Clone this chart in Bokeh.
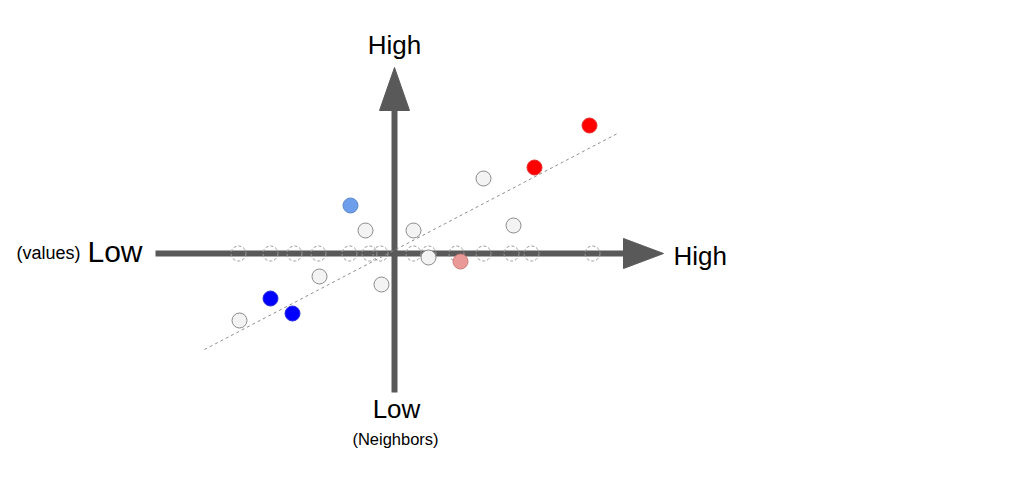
from bokeh.plotting import figure
from bokeh.models import Range1d
from bokeh.core.properties import value
from bokeh.embed import file_html
from bokeh.resources import INLINE

# Coordinates: origin at the crossing of the two axes, 1 unit = 1 px
# Dashed "projected" circles lying on the horizontal axis
proj_x = [-156, -124, -100, -76, -45, -25, -14, 19, 34, 62, 89, 117, 137, 198]
proj_y = [0] * len(proj_x)

# Neutral (not significant) observations
neutral_x = [-155, -75, -29, -13, 19, 34, 89, 119]
neutral_y = [-67, -23, 23, -31, 23, -4, 75, 28]

# Coloured observations
hh_x, hh_y = [195, 140], [128, 86]          # High-High (red)
ll_x, ll_y = [-124, -102], [-45, -60]       # Low-Low (blue)
lh_x, lh_y = [-44], [48]                    # Low-High (light blue)
hl_x, hl_y = [66], [-8]                     # High-Low (pink)

# Regression line end points
trend_x = [-190, 223]
trend_y = [-96, 120]

# Axis geometry
h_axis_x = [-239, 229]
v_axis_y = [-139, 143]
h_head_x = [229, 269, 229]
h_head_y = [15, 0, -15]
v_head_x = [-15, 0, 15]
v_head_y = [143, 186, 143]

FONT = value("Liberation Sans")
AXIS_COL = "#595959"

p = figure(width=1008, height=474, output_backend="svg", toolbar_location=None,
           x_range=Range1d(-394, 614), y_range=Range1d(-221, 253),
           min_border=0)
p.axis.visible = False
p.grid.visible = False
p.outline_line_color = None
p.background_fill_color = "white"
p.border_fill_color = "white"

# axes (thick arrows)
p.line(h_axis_x, [0, 0], line_width=6, line_color=AXIS_COL)
p.line([0, 0], v_axis_y, line_width=6, line_color=AXIS_COL)
p.patch(h_head_x, h_head_y, fill_color=AXIS_COL, line_color=AXIS_COL)
p.patch(v_head_x, v_head_y, fill_color=AXIS_COL, line_color=AXIS_COL)

# projected dashed circles
p.scatter(proj_x, proj_y, size=15, fill_color=None, line_color="#9a9a9a",
          line_dash="3 2", line_width=1)

# trend line
p.line(trend_x, trend_y, line_color="#8f8f8f", line_dash="3 3", line_width=1)

# observations
p.scatter(neutral_x, neutral_y, size=15, fill_color="#f3f3f3", line_color="#8a8a8a", line_width=1)
p.scatter(hh_x, hh_y, size=15, fill_color="#ff0000", line_color="#e63030", line_width=1)
p.scatter(ll_x, ll_y, size=15, fill_color="#0000ff", line_color="#2a2ae0", line_width=1)
p.scatter(lh_x, lh_y, size=15, fill_color="#6d9eeb", line_color="#5a86c9", line_width=1)
p.scatter(hl_x, hl_y, size=15, fill_color="#ea9999", line_color="#cc7a7a", line_width=1)

# labels
p.text(x=[0], y=[209], text=["High"], text_font=FONT, text_font_size="26px",
       text_align="center", text_baseline="alphabetic", text_color="black")
p.text(x=[279], y=[-2], text=["High"], text_font=FONT, text_font_size="26px",
       text_align="left", text_baseline="alphabetic", text_color="black")
p.text(x=[-252], y=[2], text=["Low"], text_font=FONT, text_font_size="30px",
       text_align="right", text_baseline="alphabetic", text_color="black")
p.text(x=[-314], y=[1], text=["(values)"], text_font=FONT, text_font_size="18px",
       text_align="right", text_baseline="alphabetic", text_color="black")
p.text(x=[2], y=[-155], text=["Low"], text_font=FONT, text_font_size="26px",
       text_align="center", text_baseline="alphabetic", text_color="black")
p.text(x=[1], y=[-185], text=["(Neighbors)"], text_font=FONT, text_font_size="16.5px",
       text_align="center", text_baseline="alphabetic", text_color="black")

open("out.html", "w").write(file_html(p, INLINE))
